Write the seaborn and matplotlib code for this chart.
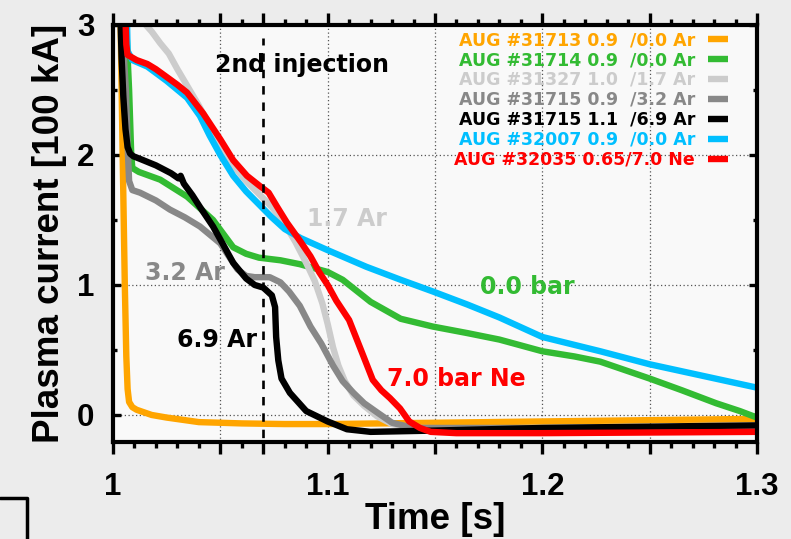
import matplotlib
matplotlib.use("Agg")
import matplotlib.pyplot as plt
from matplotlib.lines import Line2D
from matplotlib.ticker import FixedLocator, FixedFormatter, MultipleLocator
import seaborn as sns

# ---------------- discharge traces: time [s], plasma current [100 kA] ----------------
t_31713 = [1.0035, 1.0045, 1.0055, 1.0062, 1.0068, 1.0075, 1.009, 1.011, 1.018, 1.025,
           1.04, 1.06, 1.08, 1.1, 1.15, 1.2, 1.25, 1.3]
ip_31713 = [3.05, 2.0, 1.0, 0.45, 0.2, 0.1, 0.06, 0.04, 0.0, -0.02,
            -0.055, -0.065, -0.07, -0.07, -0.06, -0.05, -0.04, -0.03]

t_31714 = [1.006, 1.0075, 1.0085, 1.009, 1.012, 1.022, 1.0345, 1.0466, 1.056, 1.062,
           1.068, 1.078, 1.087, 1.1, 1.107, 1.12, 1.134, 1.149, 1.165, 1.18,
           1.2, 1.215, 1.227, 1.25, 1.265, 1.281, 1.292, 1.3]
ip_31714 = [3.05, 2.5, 2.0, 1.9, 1.87, 1.81, 1.68, 1.5, 1.29, 1.24,
            1.21, 1.19, 1.16, 1.1, 1.04, 0.87, 0.74, 0.68, 0.63, 0.58,
            0.49, 0.45, 0.41, 0.28, 0.19, 0.09, 0.03, -0.02]

t_31327 = [1.0126, 1.018, 1.022, 1.026, 1.03, 1.035, 1.04, 1.046, 1.05, 1.056,
           1.062, 1.068, 1.074, 1.08, 1.085, 1.09, 1.094, 1.0975, 1.1, 1.1025,
           1.105, 1.108, 1.112, 1.117, 1.123, 1.13, 1.14, 1.2, 1.3]
ip_31327 = [3.05, 2.95, 2.86, 2.78, 2.66, 2.52, 2.38, 2.2, 2.08, 1.92,
            1.8, 1.7, 1.6, 1.47, 1.33, 1.17, 1.03, 0.86, 0.7, 0.52,
            0.38, 0.26, 0.15, 0.07, -0.01, -0.07, -0.1, -0.11, -0.1]

t_31715a = [1.004, 1.006, 1.007, 1.0075, 1.009, 1.0126, 1.02, 1.0265, 1.0335, 1.0405,
            1.05, 1.054, 1.058, 1.062, 1.066, 1.073, 1.078, 1.082, 1.087, 1.092,
            1.097, 1.1025, 1.107, 1.112, 1.117, 1.123, 1.13, 1.14, 1.2, 1.3]
ip_31715a = [3.05, 2.5, 2.0, 1.8, 1.73, 1.71, 1.65, 1.58, 1.52, 1.45,
             1.32, 1.22, 1.12, 1.07, 1.06, 1.06, 1.02, 0.95, 0.84, 0.68,
             0.55, 0.38, 0.26, 0.17, 0.09, 0.02, -0.06, -0.1, -0.1, -0.09]

t_31715b = [1.0035, 1.004, 1.0048, 1.0058, 1.0068, 1.008, 1.0095, 1.0126, 1.02, 1.027,
            1.0305, 1.0315, 1.033, 1.037, 1.0405, 1.0466, 1.051, 1.056, 1.062, 1.066,
            1.07, 1.074, 1.0755, 1.076, 1.077, 1.0785, 1.0824, 1.09, 1.1, 1.109,
            1.12, 1.15, 1.2, 1.25, 1.3]
ip_31715b = [3.05, 2.75, 2.45, 2.2, 2.06, 2.01, 1.99, 1.97, 1.92, 1.86,
             1.82, 1.84, 1.78, 1.69, 1.6, 1.45, 1.32, 1.17, 1.05, 1.0,
             0.98, 0.92, 0.83, 0.6, 0.42, 0.28, 0.17, 0.03, -0.05, -0.11,
             -0.13, -0.12, -0.1, -0.09, -0.08]

t_32007 = [1.0065, 1.0068, 1.009, 1.016, 1.025, 1.0345, 1.0405, 1.045, 1.05, 1.056,
           1.062, 1.068, 1.074, 1.08, 1.0875, 1.0997, 1.118, 1.134, 1.149, 1.165,
           1.18, 1.2, 1.227, 1.25, 1.275, 1.3]
ip_32007 = [3.05, 2.8, 2.73, 2.68, 2.57, 2.44, 2.3, 2.15, 2.0, 1.84,
            1.72, 1.62, 1.52, 1.43, 1.36, 1.27, 1.14, 1.04, 0.95, 0.85,
            0.75, 0.6, 0.49, 0.39, 0.3, 0.21]

t_32035 = [1.0058, 1.0062, 1.0068, 1.011, 1.016, 1.02, 1.025, 1.03, 1.0345, 1.042,
           1.05, 1.056, 1.0624, 1.0685, 1.0725, 1.0765, 1.081, 1.0875, 1.092, 1.096,
           1.1, 1.104, 1.11, 1.116, 1.121, 1.125, 1.129, 1.1337, 1.138, 1.143,
           1.148, 1.16, 1.2, 1.25, 1.3]
ip_32035 = [3.05, 2.85, 2.77, 2.73, 2.7, 2.66, 2.6, 2.54, 2.48, 2.32,
            2.12, 1.96, 1.84, 1.76, 1.71, 1.6, 1.48, 1.33, 1.22, 1.1,
            1.0, 0.88, 0.73, 0.48, 0.27, 0.19, 0.13, 0.05, -0.05, -0.1,
            -0.13, -0.14, -0.14, -0.135, -0.13]

series_labels = [
    "AUG #31713 0.9  /0.0 Ar",
    "AUG #31714 0.9  /0.0 Ar",
    "AUG #31327 1.0  /1.7 Ar",
    "AUG #31715 0.9  /3.2 Ar",
    "AUG #31715 1.1  /6.9 Ar",
    "AUG #32007 0.9  /0.0 Ar",
    "AUG #32035 0.65/7.0 Ne",
]
series_times = [t_31713, t_31714, t_31327, t_31715a, t_31715b, t_32007, t_32035]
series_currents = [ip_31713, ip_31714, ip_31327, ip_31715a, ip_31715b, ip_32007, ip_32035]

x_major_ticks = [1.0, 1.05, 1.07, 1.1, 1.15, 1.2, 1.25, 1.3]
x_tick_labels = ["1", "", "", "1.1", "", "1.2", "", "1.3"]
y_ticks = [0, 1, 2, 3]
y_tick_labels = ["0", "1", "2", "3"]

injection_time = 1.07
injection_top = 2.9

# ---------------- styling ----------------
sns.set_style("ticks")
plt.rcParams["font.family"] = ["Liberation Sans", "DejaVu Sans"]
plt.rcParams["font.weight"] = "bold"
plt.rcParams["axes.labelweight"] = "bold"
for key in ("text.color", "axes.labelcolor", "xtick.color", "ytick.color",
            "xtick.labelcolor", "ytick.labelcolor", "axes.edgecolor"):
    plt.rcParams[key] = "black"

line_colors = ["#ffa500", "#33bb33", "#cccccc", "#888888", "#000000", "#00bfff", "#ff0000"]

W, H = 791, 539
fig = plt.figure(figsize=(W / 100, H / 100), dpi=100, facecolor="#ececec")
ax = fig.add_axes([113 / W, 1 - 442 / H, 644 / W, 417 / H])
ax.set_facecolor("#f9f9f9")

for t, ip, lab, col in zip(series_times, series_currents, series_labels, line_colors):
    sns.lineplot(x=t, y=ip, ax=ax, color=col, linewidth=4.6, label=lab,
                 sort=False, estimator=None, solid_joinstyle="round",
                 solid_capstyle="butt")

# second gas injection marker
ax.vlines(injection_time, -0.3, injection_top, colors="black", linewidth=1.9,
          linestyles=(0, (3.2, 3.0)), zorder=3)

ax.set_xlim(1.0, 1.3)
ax.set_ylim(-0.208, 3.0)

ax.xaxis.set_major_locator(FixedLocator(x_major_ticks))
ax.xaxis.set_major_formatter(FixedFormatter(x_tick_labels))
ax.xaxis.set_minor_locator(MultipleLocator(0.01))
ax.yaxis.set_major_locator(FixedLocator(y_ticks))
ax.yaxis.set_major_formatter(FixedFormatter(y_tick_labels))
ax.yaxis.set_minor_locator(MultipleLocator(0.5))

ax.tick_params(axis="x", which="major", direction="out", length=8.6, width=2.4,
               top=True, bottom=True, labelsize=22.5, pad=13, colors="black")
ax.tick_params(axis="x", which="minor", direction="out", length=4.2, width=2.4,
               top=True, bottom=True, colors="black")
ax.tick_params(axis="y", which="major", direction="in", length=6.0, width=2.4,
               left=True, right=True, labelsize=22.5, pad=13.5, colors="black")
ax.tick_params(axis="y", which="minor", direction="in", length=3.0, width=2.4,
               left=True, right=True, colors="black")

for s in ax.spines.values():
    s.set_linewidth(3.0)
    s.set_color("black")

ax.grid(True, which="major", color="#555555", linewidth=0.9, linestyle=(0, (1, 2)))
ax.set_axisbelow(True)
ax.xaxis.get_major_ticks()[2].gridline.set_visible(False)

ax.set_xlabel("Time [s]", fontsize=26.5, fontweight="bold", labelpad=0, color="black")
ax.set_ylabel("Plasma current [100 kA]", fontsize=26.5, fontweight="bold",
              labelpad=7, color="black")

# in-plot annotations
note_font = dict(family="DejaVu Sans", weight="bold", size=17)
notes = [
    ("2nd injection", 1.0475, 2.64, "black"),
    ("1.7 Ar", 1.0904, 1.45, "#cccccc"),
    ("3.2 Ar", 1.0149, 1.04, "#888888"),
    ("6.9 Ar", 1.0298, 0.526, "black"),
    ("0.0 bar", 1.171, 0.934, "#33bb33"),
    ("7.0 bar Ne", 1.1276, 0.226, "#ff0000"),
]
for txt, x, y, col in notes:
    ax.text(x, y, txt, color=col, ha="left", va="baseline", fontdict=note_font, zorder=5)

handles, labels = ax.get_legend_handles_labels()
ax.legend(handles, labels, loc="upper right", bbox_to_anchor=(0.955, 0.9856),
          markerfirst=False, frameon=False, labelcolor="linecolor",
          prop=dict(family="DejaVu Sans", weight="bold", size=12.5),
          handlelength=1.15, handletextpad=0.75, labelspacing=0.115,
          borderpad=0, borderaxespad=0)

# corner of the neighbouring panel frame
fig.add_artist(Line2D([0, 27 / W, 27 / W], [1 - 498 / H, 1 - 498 / H, 0],
                      transform=fig.transFigure, color="black", linewidth=2.5))

fig.savefig("out.png", dpi=100, facecolor=fig.get_facecolor())
